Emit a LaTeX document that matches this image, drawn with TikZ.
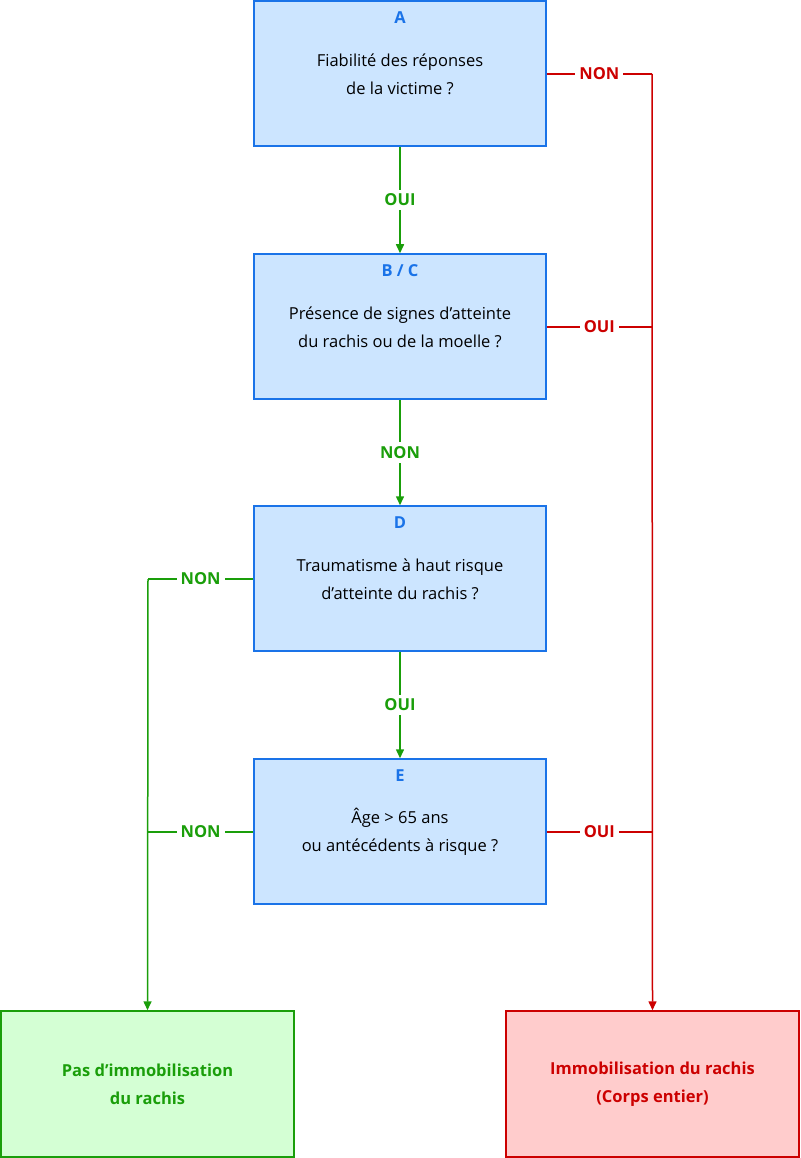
\documentclass[tikz,border=0pt]{standalone}
\usepackage{fontspec}
\setmainfont{Open Sans}
\usetikzlibrary{arrows.meta}
\definecolor{qblue}{HTML}{1A73E8}
\definecolor{qfill}{HTML}{CCE5FF}
\definecolor{ygreen}{HTML}{1A9E0A}
\definecolor{yfill}{HTML}{D4FFD4}
\definecolor{nred}{HTML}{CC0000}
\definecolor{nfill}{HTML}{FFCCCC}
\tikzset{
  question/.style={draw=qblue, fill=qfill, line width=1.5pt, minimum width=292pt,
    minimum height=145pt, align=center, font=\fontsize{16.5}{28}\selectfont, yshift=8pt},
  letter/.style={text=qblue, font=\fontsize{16.5}{20}\selectfont\bfseries},
  result/.style={line width=1.5pt, minimum width=293pt, minimum height=146pt,
    align=center, font=\fontsize{16.5}{28}\selectfont\bfseries},
  yes/.style={draw=ygreen, line width=1.5pt},
  no/.style={draw=nred, line width=1.5pt},
  tag/.style={fill=white, inner sep=4pt, font=\fontsize{16.5}{20}\selectfont\bfseries},
  tip/.style={-{Triangle[length=9pt,width=8pt]}}
}
\begin{document}
\begin{tikzpicture}[x=1pt,y=-1pt]
\useasboundingbox (0,0) rectangle (800,1158);

% questions
\node[question, minimum height=145pt, yshift=-8pt] (A) at (400,73.5) {};
\node at (400,74) [align=center, font=\fontsize{16.5}{28}\selectfont] {Fiabilité des réponses\\de la victime ?};
\node[letter] (la) at (400,18) {A};

\node[question, yshift=-8pt] (B) at (400,326.5) {};
\node at (400,327) [align=center, font=\fontsize{16.5}{28}\selectfont] {Présence de signes d'atteinte\\du rachis ou de la moelle ?};
\node[letter] (lb) at (400,271) {B / C};

\node[question, yshift=-8pt] (D) at (400,578.5) {};
\node at (400,579) [align=center, font=\fontsize{16.5}{28}\selectfont] {Traumatisme à haut risque\\d'atteinte du rachis ?};
\node[letter] (ld) at (400,523) {D};

\node[question, yshift=-8pt] (E) at (400,831.5) {};
\node at (400,832) [align=center, font=\fontsize{16.5}{28}\selectfont] {Âge > 65 ans\\ou antécédents à risque ?};
\node[letter] (le) at (400,776) {E};

% outcomes
\node[result, draw=ygreen, fill=yfill, text=ygreen] (pas) at (147.5,1084)
  {Pas d'immobilisation\\du rachis};
\node[result, draw=nred, fill=nfill, text=nred] (imm) at (652.5,1084)
  {Immobilisation du rachis\\(Corps entier)};

% main chain
\draw[yes, tip] (A) -- node[tag, text=ygreen] {OUI} (B);
\draw[yes, tip] (B) -- node[tag, text=ygreen] {NON} (D);
\draw[yes, tip] (D) -- node[tag, text=ygreen] {OUI} (E);

% red side
\coordinate (ra) at (652,74);
\coordinate (rb) at (652,327);
\coordinate (re) at (652,832);
\draw[no] (A.east |- ra) -- node[tag, text=nred] {NON} (ra);
\draw[no, tip] (ra) -- (imm.north);
\draw[no] (B.east |- rb) -- node[tag, text=nred] {OUI} (rb);
\draw[no] (E.east |- re) -- node[tag, text=nred] {OUI} (re);

% green side
\coordinate (gd) at (148,579);
\coordinate (ge) at (148,832);
\draw[yes] (D.west |- gd) -- node[tag, text=ygreen] {NON} (gd);
\draw[yes, tip] (gd) -- (pas.north);
\draw[yes] (E.west |- ge) -- node[tag, text=ygreen] {NON} (ge);
\end{tikzpicture}
\end{document}
